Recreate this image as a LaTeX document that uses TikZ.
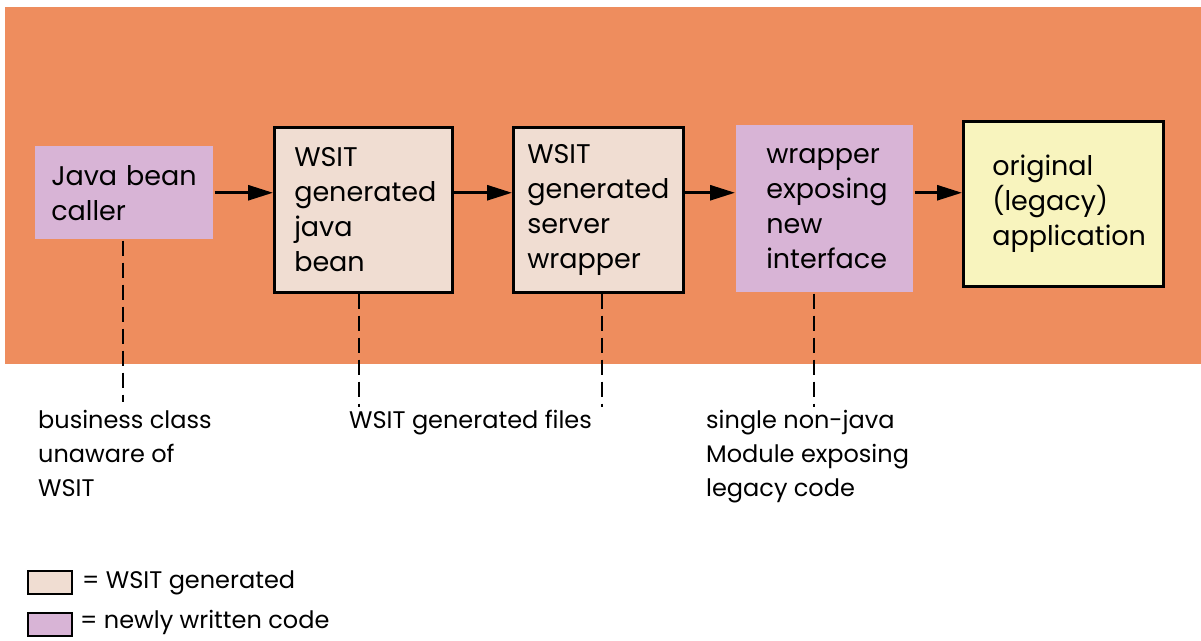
\documentclass[tikz,border=0pt]{standalone}
\usepackage{fontspec}
\setmainfont{Poppins}
\usetikzlibrary{arrows.meta}
\definecolor{bandorange}{HTML}{EE8D5E}
\definecolor{lilac}{HTML}{D8B4D6}
\definecolor{beige}{HTML}{F0DDD2}
\definecolor{paleyellow}{HTML}{F8F4BE}
\begin{document}
\begin{tikzpicture}[x=1pt,y=-1pt,
  boxnode/.style={anchor=north west, align=left, inner ysep=0pt,
    font=\fontsize{27}{35}\selectfont, line width=2.5pt},
  note/.style={anchor=north west, align=left, inner sep=0pt,
    font=\fontsize{24}{34}\selectfont},
  arr/.style={line width=2.8pt, -{Triangle[length=25pt,width=15pt]}},
  dashline/.style={line width=2.5pt, dash pattern=on 15pt off 7pt},
  legbox/.style={anchor=north west, draw, line width=2pt, minimum width=44pt,
    minimum height=23pt, inner sep=0pt},
  legtext/.style={anchor=west, inner sep=0pt, font=\fontsize{24}{30}\selectfont}
]
\useasboundingbox (0,0) rectangle (1201,640);
\fill[white] (0,0) rectangle (1201,640);
\fill[bandorange] (5,7) rectangle (1201,364);

\node[boxnode, fill=lilac, inner xsep=16pt, text width=146pt, minimum height=93pt]
  (b1) at (34,145) {Java bean\\caller};
\node[boxnode, draw, fill=beige, inner xsep=20pt, text width=138pt, minimum height=165pt]
  (b2) at (273,126) {WSIT\\generated\\java\\bean};
\node[boxnode, draw, fill=beige, inner xsep=14pt, text width=142pt, minimum height=165pt]
  (b3) at (512,126) {WSIT\\generated\\server\\wrapper};
\node[boxnode, fill=lilac, inner xsep=30pt, text width=117pt, minimum height=167pt]
  (b4) at (735,124) {wrapper\\exposing\\new\\interface};
\node[boxnode, draw, fill=paleyellow, inner xsep=29pt, text width=142pt, minimum height=165pt]
  (b5) at (962,120) {original\\(legacy)\\application};

\draw[arr] (b1.east) -- (b2.west |- b1.east);
\draw[arr] (b2.east |- b1.east) -- (b3.west |- b1.east);
\draw[arr] (b3.east |- b1.east) -- (b4.west |- b1.east);
\draw[arr] (b4.east |- b1.east) -- (b5.west |- b1.east);

\coordinate (e1) at (123,402);
\coordinate (e2) at (359,407);
\coordinate (e3) at (602,407);
\coordinate (e4) at (814,407);
\draw[dashline] (b1.south -| e1) -- (e1);
\draw[dashline] (b2.south -| e2) -- (e2);
\draw[dashline] (b3.south -| e3) -- (e3);
\draw[dashline] (b4.south -| e4) -- (e4);

\node[note] (t1) at (38,410) {business class\\unaware of\\WSIT};
\node[note] (t2) at (349,410) {WSIT generated files};
\node[note] (t3) at (706,410) {single non-java\\Module exposing\\legacy code};

\node[legbox, fill=beige] (lg1) at (27,570) {};
\node[legtext] (lt1) at ([xshift=9pt]lg1.east) {= WSIT generated};
\node[legbox, fill=lilac] (lg2) at (27,612) {};
\node[legtext] (lt2) at ([xshift=7pt, yshift=2pt]lg2.east) {= newly written code};
\end{tikzpicture}
\end{document}
